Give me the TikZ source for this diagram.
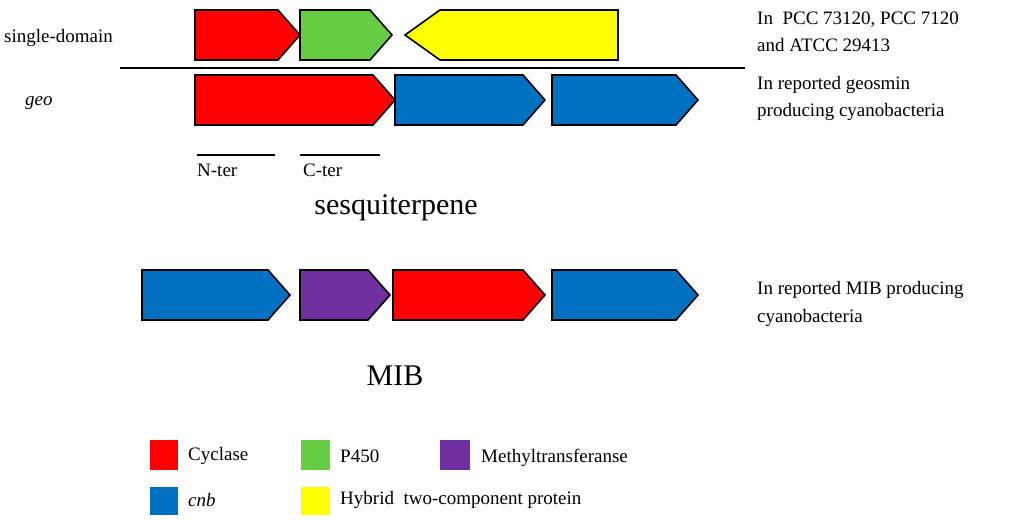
\documentclass[tikz,border=0pt]{standalone}
\usepackage{fontspec}
\setmainfont{Liberation Serif}
\definecolor{cred}{HTML}{FF0000}
\definecolor{cgreen}{HTML}{66CC44}
\definecolor{cyel}{HTML}{FFFF00}
\definecolor{cblue}{HTML}{0070C0}
\definecolor{cpur}{HTML}{7030A0}
\newcommand{\geneR}[4]{\draw[line width=1.6pt,fill=#4] (#1,#3) -- ({#2-22},#3) -- (#2,{#3+25}) -- ({#2-22},{#3+50}) -- (#1,{#3+50}) -- cycle;}
\newcommand{\geneL}[4]{\draw[line width=1.6pt,fill=#4] (#2,#3) -- ({#1+35},#3) -- (#1,{#3+25}) -- ({#1+35},{#3+50}) -- (#2,{#3+50}) -- cycle;}
\tikzset{lbl/.style={anchor=west,inner sep=0pt,font=\fontsize{19}{22}\selectfont},
sq/.style={draw=none}}
\begin{document}
\begin{tikzpicture}[x=1pt,y=-1pt]
\useasboundingbox (0,0) rectangle (1024,521);
\geneR{195}{300}{10}{cred}
\geneR{300}{392}{10}{cgreen}
\geneL{405}{618}{10}{cyel}
\draw[line width=1.6pt] (120,68) -- (745,68);
\geneR{195}{395}{75}{cred}
\geneR{395}{545}{75}{cblue}
\geneR{552}{698}{75}{cblue}
\draw[line width=1.4pt] (197,155) -- (275,155);
\draw[line width=1.4pt] (300,155) -- (380,155);
\node[lbl] (nt) at (197,170) {N-ter};
\node[lbl] (ct) at (303,170) {C-ter};
\node[inner sep=0pt,font=\fontsize{30}{34}\selectfont] (ses) at (396,208) {sesquiterpene};
\geneR{142}{290}{270}{cblue}
\geneR{300}{390}{270}{cpur}
\geneR{393}{545}{270}{cred}
\geneR{552}{698}{270}{cblue}
\node[inner sep=0pt,font=\fontsize{30}{34}\selectfont] (mib) at (395,376) {MIB};
\node[lbl] (sd) at (4,38) {single-domain};
\node[lbl] (geo) at (25,103) {\itshape geo};
\node[lbl] (r1) at (757,20) {In\ \ PCC 73120, PCC 7120};
\node[lbl] (r2) at (757,45) {and ATCC 29413};
\node[lbl] (r3) at (757,85) {In reported geosmin};
\node[lbl] (r4) at (757,112) {producing cyanobacteria};
\node[lbl] (r5) at (757,290) {In reported MIB producing};
\node[lbl] (r6) at (757,318) {cyanobacteria};
\fill[cred] (150,440) rectangle (178,470);
\node[lbl] (l1) at (188,456) {Cyclase};
\fill[cgreen] (301,440) rectangle (330,470);
\node[lbl] (l2) at (340,456) {P450};
\fill[cpur] (440,440) rectangle (470,470);
\node[lbl] (l3) at (481,458) {Methyltransferanse};
\fill[cblue] (150,487) rectangle (178,515);
\node[lbl] (l4) at (188,500) {\itshape cnb};
\fill[cyel] (301,487) rectangle (330,515);
\node[lbl] (l5) at (340,500) {Hybrid\ \ two-component protein};
\end{tikzpicture}
\end{document}
